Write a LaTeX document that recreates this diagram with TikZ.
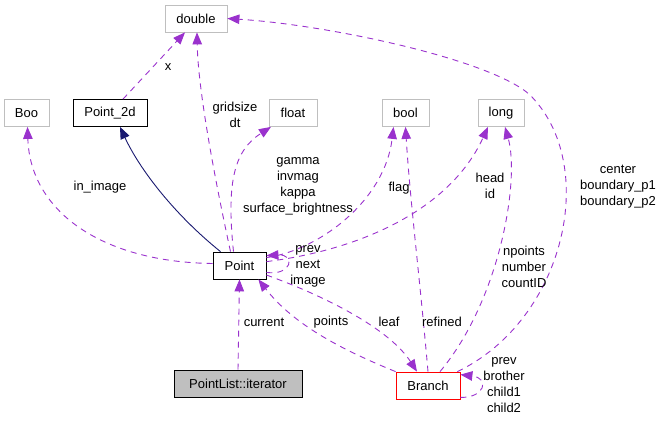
\documentclass[tikz,border=0pt]{standalone}
\usepackage{fontspec}
\setmainfont{Liberation Sans}
\usetikzlibrary{arrows.meta}
\definecolor{depc}{HTML}{9A32CD}
\definecolor{inhc}{HTML}{191970}
\definecolor{gbord}{HTML}{BFBFBF}
\begin{document}
\begin{tikzpicture}[x=1pt,y=-1pt,
  font=\fontsize{13}{16}\selectfont,
  box/.style={draw, line width=0.8pt, minimum height=27pt, inner sep=0pt, anchor=center},
  ext/.style={box, draw=gbord},
  dep/.style={draw=depc, line width=0.9pt, dash pattern=on 6pt off 5pt,
    -{Triangle[length=12pt,width=9.5pt,fill=depc]}},
  inh/.style={draw=inhc, line width=0.9pt, -{Triangle[length=12pt,width=9.5pt,fill=inhc]}},
  lbl/.style={align=center, inner sep=0pt}]
\useasboundingbox (0,0) rectangle (662,424);

\node[ext, minimum width=62pt] (double) at (196,18.5) {double};
\node[ext, minimum width=45pt] (boo) at (26.5,113) {Boo};
\node[box, minimum width=74pt] (p2d) at (110,113) {Point\_2d};
\node[ext, minimum width=48pt] (float) at (293,113) {float};
\node[ext, minimum width=47pt] (bool) at (405.5,113) {bool};
\node[ext, minimum width=46pt] (long) at (501,113) {long};
\node[box, minimum width=53pt] (point) at (239.5,265.5) {Point};
\node[box, fill=gbord, minimum width=128pt] (iter) at (238,383.5) {PointList::iterator};
\node[box, draw=red, minimum width=64pt] (branch) at (428,385.5) {Branch};

% edges
\draw[dep] ([xshift=13pt]p2d.north) -- ([xshift=-11pt]double.south);
\draw[dep] ([xshift=-9pt]point.north) .. controls (215,180) and (198,90) .. ([xshift=1pt]double.south);
\draw[dep] ([xshift=-6pt]point.north) .. controls (226,180) and (235,150) .. ([xshift=-22pt]float.south);
\draw[dep] ([yshift=2pt]point.west) .. controls (100,262) and (30,210) .. ([xshift=1pt]boo.south);
\draw[inh] ([xshift=-19pt]point.north) .. controls (175,215) and (140,170) .. ([xshift=10pt]p2d.south);
\draw[dep] ([yshift=-6pt]point.north east) .. controls (320,250) and (385,200) .. ([xshift=-12pt]bool.south);
\draw[dep] ([yshift=-10pt]point.north east) .. controls (360,250) and (450,210) .. ([xshift=-13pt]long.south);
\draw[dep] ([yshift=7pt]point.south east) .. controls (292,276) and (296,254) .. ([yshift=-4pt]point.north east);
\draw[dep] (iter.north) -- (point.south);
\draw[dep] (branch.north west) .. controls (330,345) and (290,320) .. ([xshift=-8pt]point.south east);
\draw[dep] ([yshift=-9.5pt]point.east) .. controls (330,298) and (390,330) .. ([xshift=-11pt]branch.north);
\draw[dep] (branch.north) .. controls (420,280) and (410,200) .. (bool.south);
\draw[dep] ([xshift=12pt]branch.north) .. controls (500,300) and (520,180) .. ([xshift=4pt]long.south);
\draw[dep] ([xshift=-3pt]branch.north east) .. controls (565,320) and (600,165) .. (530,95)
   .. controls (492,60) and (330,25) .. (double.east);
\draw[dep] ([yshift=2pt]branch.south east) .. controls (485,398) and (490,378) .. ([yshift=-3pt]branch.north east);

% labels
\node[lbl] (lx) at (168,67) {x};
\node[lbl] (lgrid) at (235,115) {gridsize\\dt};
\node[lbl] (lgamma) at (298,186.5) {gamma\\invmag\\kappa\\surface\_brightness};
\node[lbl] (lflag) at (399,188) {flag};
\node[lbl] (lhead) at (490,186) {head\\id};
\node[lbl] (lcenter) at (618,187) {center\\boundary\_p1\\boundary\_p2};
\node[lbl] (lnpoints) at (524,267) {npoints\\number\\countID};
\node[lbl] (lrefined) at (442,322) {refined};
\node[lbl] (limage) at (100,187) {in\_image};
\node[lbl] (lprev) at (308,266.5) {prev\\next\\image};
\node[lbl] (lcurrent) at (264,322) {current};
\node[lbl] (lpoints) at (331,322) {points};
\node[lbl] (lleaf) at (389,322) {leaf};
\node[lbl] (lbprev) at (504,385.5) {prev\\brother\\child1\\child2};
\end{tikzpicture}
\end{document}
